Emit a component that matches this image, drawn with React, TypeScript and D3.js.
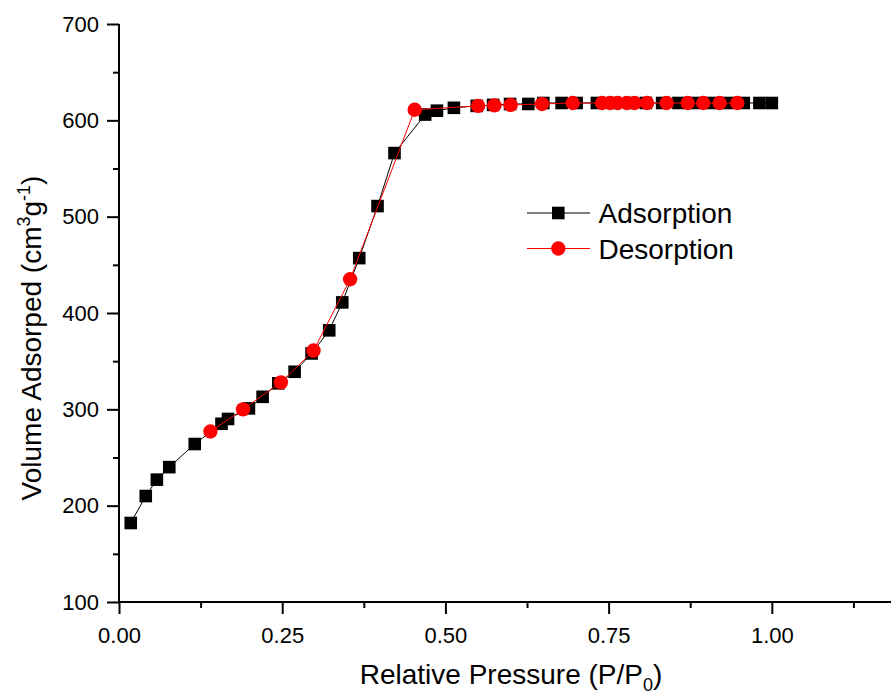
import * as d3 from 'd3';
import React, { useRef, useEffect } from 'react';

// adsorption branch (P/P0, cm3/g)
const adsP = [0.018, 0.041, 0.058, 0.077, 0.116, 0.157, 0.167, 0.199, 0.220, 0.244, 0.269, 0.295, 0.322, 0.342, 0.368, 0.396, 0.422, 0.469, 0.487, 0.513, 0.548, 0.573, 0.599, 0.627, 0.650, 0.678, 0.701, 0.732, 0.757, 0.782, 0.807, 0.832, 0.857, 0.882, 0.908, 0.933, 0.957, 0.981, 1.0];
const adsV = [182, 210, 227, 240, 264, 285, 290, 301, 313, 327, 339, 358, 382, 411, 457, 511, 566, 606, 610, 613, 615, 616, 617, 617, 618, 618, 618, 618, 618, 618, 618, 618, 618, 618, 618, 618, 618, 618, 618];

// desorption branch
const desP = [0.947, 0.920, 0.895, 0.871, 0.839, 0.809, 0.790, 0.778, 0.764, 0.752, 0.740, 0.695, 0.648, 0.600, 0.575, 0.550, 0.453, 0.354, 0.298, 0.248, 0.190, 0.140];
const desV = [618, 618, 618, 618, 618, 618, 618, 618, 618, 618, 618, 618, 617, 616, 615.5, 615, 611, 435, 361, 328, 300, 277];

const xTicks = [0, 0.25, 0.5, 0.75, 1.0];
const yTicks = [100, 200, 300, 400, 500, 600, 700];
const seriesNames = ['Adsorption', 'Desorption'];

const FONT = '"Liberation Sans", Arial, sans-serif';

function IsothermChart() {
  const svgWidth = 891;
  const svgHeight = 696;
  const svgRef = useRef<SVGSVGElement>(null);

  useEffect(() => {
    const svg = d3.select(svgRef.current);
    svg.selectAll('*').remove();

    const xScale = d3.scaleLinear().domain([0, 1.185]).range([119, 892.6]);
    const yScale = d3.scaleLinear().domain([100, 700]).range([602, 24]);

    // x axis
    const xAxis = d3
      .axisBottom(xScale)
      .tickValues(xTicks)
      .tickFormat((d) => d3.format('.2f')(d as number))
      .tickSize(12)
      .tickPadding(13);
    const gx = svg.append('g').attr('transform', `translate(0,${yScale(100)})`).call(xAxis);
    gx.select('.domain').attr('d', `M${xScale(0)},0H${xScale(1.185)}`);

    const xMinor = d3.axisBottom(xScale).tickValues([0.125, 0.375, 0.625, 0.875, 1.125]).tickSize(6).tickFormat(() => '');
    const gxm = svg.append('g').attr('transform', `translate(0,${yScale(100)})`).call(xMinor);
    gxm.select('.domain').remove();

    // y axis
    const yAxis = d3.axisLeft(yScale).tickValues(yTicks).tickSize(12).tickPadding(8);
    const gy = svg.append('g').attr('transform', `translate(${xScale(0)},0)`).call(yAxis);
    gy.select('.domain').attr('d', `M0,${yScale(100)}V${yScale(700)}`);

    const yMinor = d3.axisLeft(yScale).tickValues([150, 250, 350, 450, 550, 650]).tickSize(6).tickFormat(() => '');
    const gym = svg.append('g').attr('transform', `translate(${xScale(0)},0)`).call(yMinor);
    gym.select('.domain').remove();

    svg.selectAll('.domain, .tick line').attr('stroke', '#000').attr('stroke-width', 2);
    svg
      .selectAll('.tick text')
      .attr('font-family', FONT)
      .attr('font-size', 22)
      .attr('fill', '#000');

    // series
    const ads = adsP.map((p, i) => [p, adsV[i]] as [number, number]);
    const des = desP.map((p, i) => [p, desV[i]] as [number, number]);
    const line = d3
      .line<[number, number]>()
      .x((d) => xScale(d[0]))
      .y((d) => yScale(d[1]));

    svg.append('path').attr('d', line(ads)).attr('fill', 'none').attr('stroke', '#000').attr('stroke-width', 1);
    svg
      .selectAll('.ads')
      .data(ads)
      .join('rect')
      .attr('class', 'ads')
      .attr('x', (d) => xScale(d[0]) - 6.3)
      .attr('y', (d) => yScale(d[1]) - 6.3)
      .attr('width', 12.6)
      .attr('height', 12.6)
      .attr('fill', '#000');

    svg.append('path').attr('d', line(des)).attr('fill', 'none').attr('stroke', '#ff0000').attr('stroke-width', 1);
    svg
      .selectAll('.des')
      .data(des)
      .join('circle')
      .attr('class', 'des')
      .attr('cx', (d) => xScale(d[0]))
      .attr('cy', (d) => yScale(d[1]))
      .attr('r', 7.2)
      .attr('fill', '#ff0000');

    // legend
    const legend = svg.append('g').attr('transform', 'translate(527,213)');
    seriesNames.forEach((name, i) => {
      const g = legend.append('g').attr('transform', `translate(0,${i * 35.5})`);
      const color = i === 0 ? '#000' : '#ff0000';
      g.append('line').attr('x1', 0).attr('x2', 63).attr('stroke', color).attr('stroke-width', 1);
      if (i === 0) {
        g.append('rect').attr('x', 31.3 - 6.3).attr('y', -6.3).attr('width', 12.6).attr('height', 12.6).attr('fill', color);
      } else {
        g.append('circle').attr('cx', 31.3).attr('cy', 0).attr('r', 7.2).attr('fill', color);
      }
      g.append('text')
        .attr('x', 71.5)
        .attr('y', 10.3)
        .attr('font-family', FONT)
        .attr('font-size', 28)
        .attr('fill', '#000')
        .text(name);
    });

    // x title
    const xt = svg
      .append('text')
      .attr('x', 511)
      .attr('y', 684)
      .attr('text-anchor', 'middle')
      .attr('font-family', FONT)
      .attr('font-size', 28)
      .attr('fill', '#000');
    xt.append('tspan').text('Relative Pressure (P/P');
    xt.append('tspan').attr('font-size', 18).attr('dy', 7).text('0');
    xt.append('tspan').attr('dy', -7).text(')');

    // y title
    const yt = svg
      .append('text')
      .attr('transform', 'translate(41,338) rotate(-90)')
      .attr('text-anchor', 'middle')
      .attr('font-family', FONT)
      .attr('font-size', 28)
      .attr('fill', '#000');
    yt.append('tspan').text('Volume Adsorped (cm');
    yt.append('tspan').attr('font-size', 18).attr('dy', -11).text('3');
    yt.append('tspan').attr('dy', 11).text('g');
    yt.append('tspan').attr('font-size', 18).attr('dy', -11).text('-1');
    yt.append('tspan').attr('dy', 11).text(')');
  }, []);

  return (
    <svg
      width={svgWidth}
      height={svgHeight}
      ref={svgRef}
      style={{ position: 'absolute', left: 0, top: 0, background: '#fff' }}
    />
  );
}

export default function App() {
  return <IsothermChart />;
}
